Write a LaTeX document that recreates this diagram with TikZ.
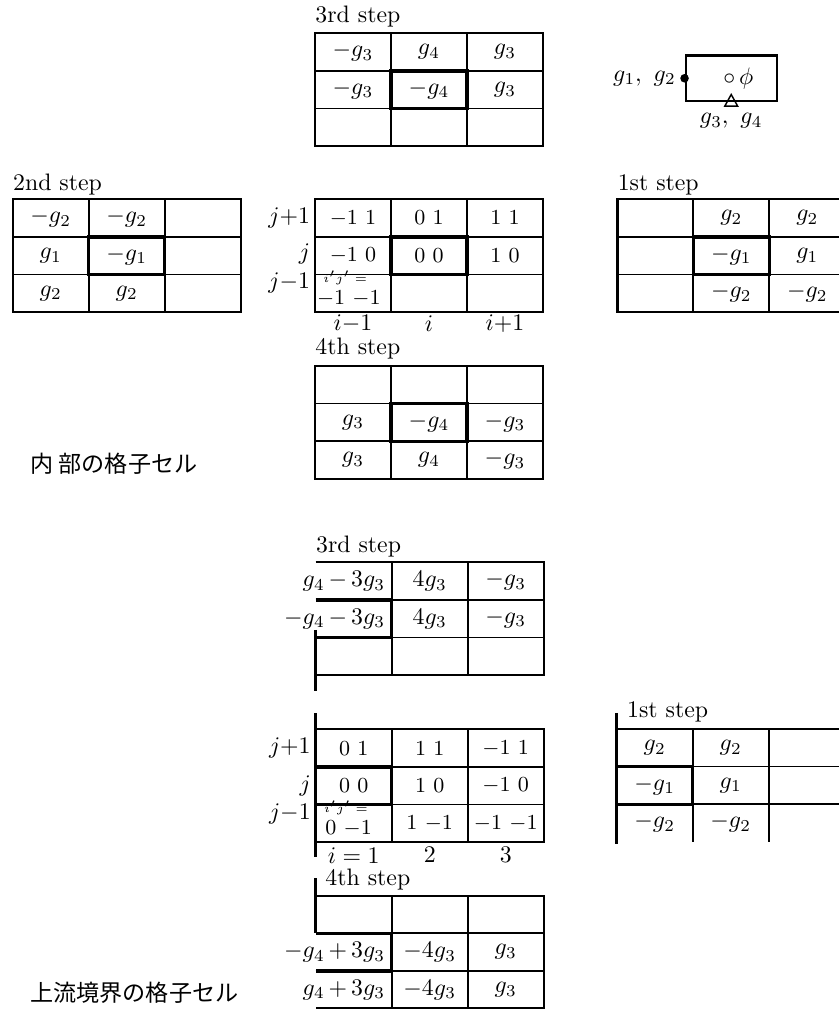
\documentclass[tikz,border=0pt]{standalone}
\usepackage{fontspec}
\newfontfamily\jpfont{Noto Sans CJK JP}
\usetikzlibrary{positioning}
\begin{document}
\begin{tikzpicture}[
    x=0.42pt, y=-0.42pt,
    cellrows/.style={x=31.92pt, y=-15.79pt},
    gridline/.style={line width=0.75pt},
    outline/.style={line width=1pt},
    pivot/.style={line width=1.4pt},
    wall/.style={line width=1.4pt},
    cell/.style={inner sep=0pt},
    idx/.style={inner sep=0pt, font=\small},
    title/.style={anchor=base west, inner sep=0pt},
    rowlab/.style={anchor=east, inner sep=0pt},
    caption/.style={anchor=west, inner sep=0pt, font=\jpfont\fontsize{9.7}{11}\selectfont}
]
\useasboundingbox (0,0) rectangle (838,1009);

% legend: where the variables sit in a cell
\node[draw, line width=1pt, minimum width=38.2pt, minimum height=19pt, inner sep=0pt] (ref) at (731.2,78.3) {};
\fill (ref.west) circle (1.8pt);
\node[inner sep=0pt, left=3.5pt of ref.west] (refg12) {$g_1,\ g_2$};
\node[inner sep=0pt] (refphi) at ([xshift=3pt]ref.center) {$\circ\,\phi$};
\draw[line width=0.6pt] ([yshift=3.2pt]ref.south) -- ++(2.7pt,-4.9pt) -- ++(-5.4pt,0) -- cycle;
\node[inner sep=0pt, below=4.6pt of ref.south] (refg34) {$g_3,\ g_4$};

%%% interior cell %%%

% 3rd step
\node[title] (i3title) at (315,22.7) {3rd step};
\begin{scope}[shift={(315,33.3)}, cellrows]
  \draw[gridline] (1,0) -- (1,3) (2,0) -- (2,3) (0,1) -- (3,1) (0,2) -- (3,2);
  \draw[outline] (0,0) rectangle (3,3);
  \draw[pivot] (1,1) rectangle (2,2);
  \node[cell] (i3a) at (0.5,0.5) {$-g_3$};
  \node[cell] (i3b) at (1.5,0.5) {$g_4$};
  \node[cell] (i3c) at (2.5,0.5) {$g_3$};
  \node[cell] (i3d) at (0.5,1.5) {$-g_3$};
  \node[cell] (i3e) at (1.5,1.5) {$-g_4$};
  \node[cell] (i3f) at (2.5,1.5) {$g_3$};
\end{scope}

% 2nd step
\node[title] (i2title) at (12.7,190.7) {2nd step};
\begin{scope}[shift={(12.7,199.3)}, cellrows]
  \draw[gridline] (1,0) -- (1,3) (2,0) -- (2,3) (0,1) -- (3,1) (0,2) -- (3,2);
  \draw[outline] (0,0) rectangle (3,3);
  \draw[pivot] (1,1) rectangle (2,2);
  \node[cell] (i2a) at (0.5,0.5) {$-g_2$};
  \node[cell] (i2b) at (1.5,0.5) {$-g_2$};
  \node[cell] (i2c) at (0.5,1.5) {$g_1$};
  \node[cell] (i2d) at (1.5,1.5) {$-g_1$};
  \node[cell] (i2e) at (0.5,2.5) {$g_2$};
  \node[cell] (i2f) at (1.5,2.5) {$g_2$};
\end{scope}

% cell indices
\begin{scope}[shift={(315,199.3)}, cellrows]
  \draw[gridline] (1,0) -- (1,3) (2,0) -- (2,3) (0,1) -- (3,1) (0,2) -- (3,2);
  \draw[outline] (0,0) rectangle (3,3);
  \draw[pivot] (1,1) rectangle (2,2);
  \node[idx] (iia) at (0.5,0.5) {$-1\ 1$};
  \node[idx] (iib) at (1.5,0.5) {$0\ 1$};
  \node[idx] (iic) at (2.5,0.5) {$1\ 1$};
  \node[idx] (iid) at (0.5,1.5) {$-1\ 0$};
  \node[idx] (iie) at (1.5,1.5) {$0\ 0$};
  \node[idx] (iif) at (2.5,1.5) {$1\ 0$};
  \node[idx, anchor=base west, font=\tiny] (iig) at (0.1,2.22) {$i'j'=$};
  \node[idx, anchor=base west] (iih) at (0.02,2.8) {$-1\ {-}1$};
  \node[rowlab] (iij1) at (-0.06,0.5) {$j{+}1$};
  \node[rowlab] (iij0) at (-0.06,1.45) {$j$};
  \node[rowlab] (iij2) at (-0.06,2.22) {$j{-}1$};
  \node[idx, font=\normalsize] (iii1) at (0.5,3.3) {$i{-}1$};
  \node[idx, font=\normalsize] (iii0) at (1.5,3.3) {$i$};
  \node[idx, font=\normalsize] (iii2) at (2.5,3.3) {$i{+}1$};
\end{scope}

% 1st step
\node[title] (i1title) at (617.3,190.7) {1st step};
\begin{scope}[shift={(617.3,199.3)}, cellrows]
  \draw[gridline] (1,0) -- (1,3) (2,0) -- (2,3) (0,1) -- (3,1) (0,2) -- (3,2);
  \draw[outline] (0,0) rectangle (3,3);
  \draw[pivot] (1,1) rectangle (2,2);
  \node[cell] (i1a) at (1.5,0.5) {$g_2$};
  \node[cell] (i1b) at (2.5,0.5) {$g_2$};
  \node[cell] (i1c) at (1.5,1.5) {$-g_1$};
  \node[cell] (i1d) at (2.5,1.5) {$g_1$};
  \node[cell] (i1e) at (1.5,2.5) {$-g_2$};
  \node[cell] (i1f) at (2.5,2.5) {$-g_2$};
\end{scope}

% 4th step
\node[title] (i4title) at (315,355) {4th step};
\begin{scope}[shift={(315,366)}, cellrows]
  \draw[gridline] (1,0) -- (1,3) (2,0) -- (2,3) (0,1) -- (3,1) (0,2) -- (3,2);
  \draw[outline] (0,0) rectangle (3,3);
  \draw[pivot] (1,1) rectangle (2,2);
  \node[cell] (i4a) at (0.5,1.5) {$g_3$};
  \node[cell] (i4b) at (1.5,1.5) {$-g_4$};
  \node[cell] (i4c) at (2.5,1.5) {$-g_3$};
  \node[cell] (i4d) at (0.5,2.5) {$g_3$};
  \node[cell] (i4e) at (1.5,2.5) {$g_4$};
  \node[cell] (i4f) at (2.5,2.5) {$-g_3$};
\end{scope}

\node[caption] (intcap) at (30,464) {内 部の格子セル};

%%% upstream boundary cell %%%

% 3rd step
\node[title] (b3title) at (315.7,552.7) {3rd step};
\begin{scope}[shift={(315.7,562.3)}, cellrows]
  \draw[gridline] (1,0) -- (1,3) (2,0) -- (2,3) (0,1) -- (3,1) (0,2) -- (3,2);
  \draw[outline] (0,0) -- (3,0) -- (3,3) -- (0,3);
  \draw[pivot] (0,1) -- (1,1) -- (1,2) -- (0,2);
  \draw[wall] (0,1.8) -- (0,3.41);
  \node[cell, anchor=east] (b3a) at (0.92,0.5) {$g_4\,{-}\,3g_3$};
  \node[cell] (b3b) at (1.5,0.5) {$4g_3$};
  \node[cell] (b3c) at (2.5,0.5) {$-g_3$};
  \node[cell, anchor=east] (b3d) at (0.92,1.5) {$-g_4\,{-}\,3g_3$};
  \node[cell] (b3e) at (1.5,1.5) {$4g_3$};
  \node[cell] (b3f) at (2.5,1.5) {$-g_3$};
\end{scope}

% cell indices
\begin{scope}[shift={(315.7,729.3)}, cellrows]
  \draw[gridline] (1,0) -- (1,3) (2,0) -- (2,3) (0,1) -- (3,1) (0,2) -- (3,2);
  \draw[outline] (0,0) -- (3,0) -- (3,3) -- (0,3);
  \draw[pivot] (0,1) -- (1,1) -- (1,2) -- (0,2);
  \draw[wall] (0,-0.43) -- (0,3.39);
  \node[idx] (bia) at (0.5,0.5) {$0\ 1$};
  \node[idx] (bib) at (1.5,0.5) {$1\ 1$};
  \node[idx] (bic) at (2.5,0.5) {$-1\ 1$};
  \node[idx] (bid) at (0.5,1.5) {$0\ 0$};
  \node[idx] (bie) at (1.5,1.5) {$1\ 0$};
  \node[idx] (bif) at (2.5,1.5) {$-1\ 0$};
  \node[idx, anchor=base west, font=\tiny] (big) at (0.1,2.22) {$i'j'=$};
  \node[idx, anchor=base west] (bih) at (0.12,2.8) {$0\ {-}1$};
  \node[idx] (bii) at (1.5,2.5) {$1\ {-}1$};
  \node[idx] (bij) at (2.5,2.5) {$-1\ {-}1$};
  \node[rowlab] (bij1) at (-0.06,0.5) {$j{+}1$};
  \node[rowlab] (bij0) at (-0.06,1.5) {$j$};
  \node[rowlab] (bij2) at (-0.06,2.25) {$j{-}1$};
  \node[idx, font=\normalsize] (bii1) at (0.5,3.35) {$i=1$};
  \node[idx, font=\normalsize] (bii2) at (1.5,3.35) {$2$};
  \node[idx, font=\normalsize] (bii3) at (2.5,3.35) {$3$};
\end{scope}

% 1st step
\node[title] (b1title) at (626.7,717.3) {1st step};
\begin{scope}[shift={(616.7,729)}, cellrows]
  \draw[gridline] (1,0) -- (1,3) (2,0) -- (2,3) (0,0) -- (3,0) (0,1) -- (3,1) (0,2) -- (3,2);
  \draw[pivot] (0,1) -- (1,1) -- (1,2) -- (0,2);
  \draw[wall] (0,-0.43) -- (0,3.05);
  \node[cell] (b1a) at (0.5,0.5) {$g_2$};
  \node[cell] (b1b) at (1.5,0.5) {$g_2$};
  \node[cell] (b1c) at (0.5,1.5) {$-g_1$};
  \node[cell] (b1d) at (1.5,1.5) {$g_1$};
  \node[cell] (b1e) at (0.5,2.5) {$-g_2$};
  \node[cell] (b1f) at (1.5,2.5) {$-g_2$};
\end{scope}

% 4th step
\node[title] (b4title) at (325,885) {4th step};
\begin{scope}[shift={(315.7,895.7)}, cellrows]
  \draw[gridline] (1,0) -- (1,3) (2,0) -- (2,3) (0,1) -- (3,1) (0,2) -- (3,2);
  \draw[outline] (0,0) -- (3,0) -- (3,3) -- (0,3);
  \draw[pivot] (0,1) -- (1,1) -- (1,2) -- (0,2);
  \draw[wall] (0,-0.47) -- (0,1);
  \node[cell, anchor=east] (b4a) at (0.92,1.5) {$-g_4\,{+}\,3g_3$};
  \node[cell] (b4b) at (1.5,1.5) {$-4g_3$};
  \node[cell] (b4c) at (2.5,1.5) {$g_3$};
  \node[cell, anchor=east] (b4d) at (0.92,2.5) {$g_4\,{+}\,3g_3$};
  \node[cell] (b4e) at (1.5,2.5) {$-4g_3$};
  \node[cell] (b4f) at (2.5,2.5) {$g_3$};
\end{scope}

\node[caption] (upcap) at (30,993) {上流境界の格子セル};

\end{tikzpicture}
\end{document}
